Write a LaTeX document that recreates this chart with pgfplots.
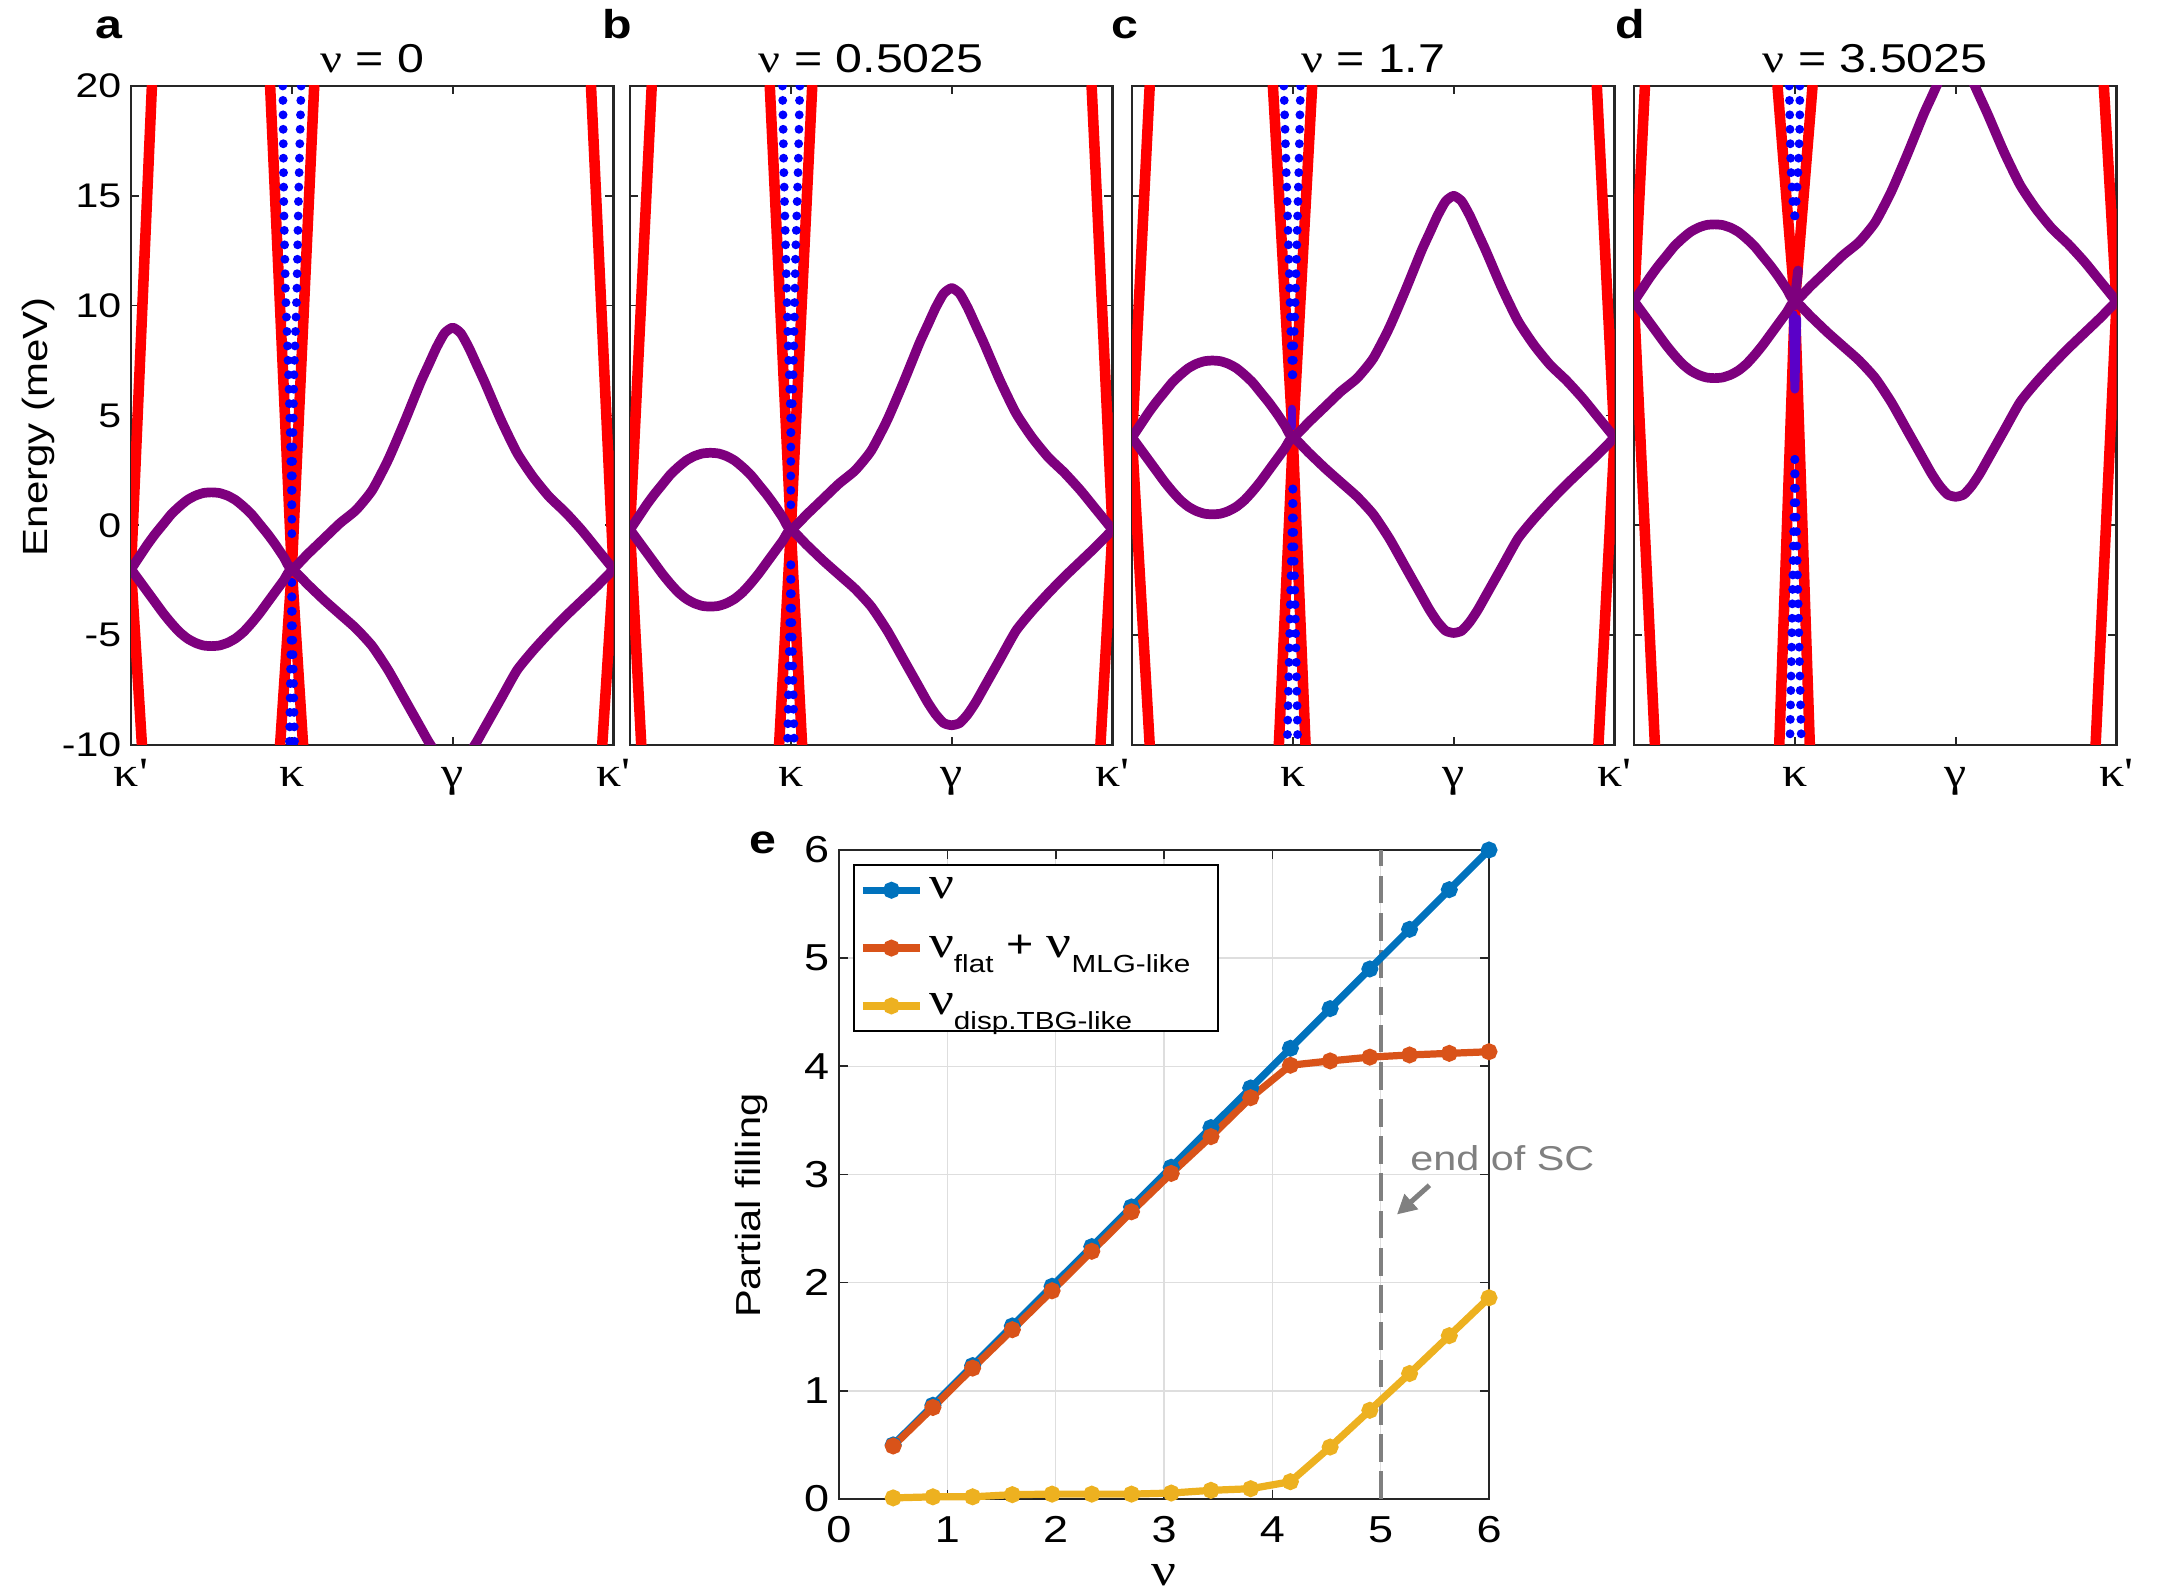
\documentclass[border=0pt]{standalone}
\usepackage{pgfplots}
\pgfplotsset{compat=1.18}
\usepackage{pgfplotstable}
\usepackage{fontspec}
\setmainfont{Liberation Sans}[FakeStretch=1.2]
\newfontfamily\grk{Liberation Serif}[FakeStretch=1.2,Ligatures=TeXOff]
\usetikzlibrary{arrows.meta}

\definecolor{axgray}{RGB}{38,38,38}
\definecolor{bandpurple}{RGB}{126,0,126}
\definecolor{bluepurple}{RGB}{90,0,200}
\definecolor{mblue}{RGB}{0,114,189}
\definecolor{morange}{RGB}{217,83,25}
\definecolor{myellow}{RGB}{237,177,32}
\definecolor{gridgray}{RGB}{222,222,222}
\definecolor{dashgray}{RGB}{128,128,128}

\pgfplotstableread{
x    aU    aL     bU    bL    cU    cL    dU    dL
0    -2    -2     -0.2  -0.2  4     4     10.2  10.2
0.05 -1.45 -2.5   0.35  -0.7  4.55  3.5   10.75 9.7
0.1  -0.9  -3     0.9   -1.2  5.1   3     11.3  9.2
0.15 -0.4  -3.5   1.4   -1.7  5.6   2.5   11.8  8.7
0.2  0.05  -4     1.85  -2.2  6.05  2     12.25 8.2
0.25 0.5   -4.45  2.3   -2.65 6.5   1.55  12.7  7.75
0.3  0.85  -4.85  2.65  -3.05 6.85  1.15  13.05 7.35
0.35 1.15  -5.15  2.95  -3.35 7.15  0.85  13.35 7.05
0.4  1.35  -5.35  3.15  -3.55 7.35  0.65  13.55 6.85
0.45 1.47  -5.47  3.27  -3.67 7.47  0.53  13.67 6.73
0.5  1.5   -5.5   3.3   -3.7  7.5   0.5   13.7  6.7
0.55 1.47  -5.47  3.27  -3.67 7.47  0.53  13.67 6.73
0.6  1.35  -5.35  3.15  -3.55 7.35  0.65  13.55 6.85
0.65 1.15  -5.15  2.95  -3.35 7.15  0.85  13.35 7.05
0.7  0.85  -4.85  2.65  -3.05 6.85  1.15  13.05 7.35
0.75 0.5   -4.45  2.3   -2.65 6.5   1.55  12.7  7.75
0.8  0.05  -4     1.85  -2.2  6.05  2     12.25 8.2
0.85 -0.4  -3.5   1.4   -1.7  5.6   2.5   11.8  8.7
0.9  -0.9  -3     0.9   -1.2  5.1   3     11.3  9.2
0.95 -1.45 -2.5   0.35  -0.7  4.55  3.5   10.75 9.7
1.0  -2    -2     -0.2  -0.2  4     4     10.2  10.2
1.1  -1.3  -2.7   0.5   -0.9  4.7   3.3   10.9  9.5
1.2  -0.6  -3.4   1.2   -1.6  5.4   2.6   11.6  8.8
1.3  0.1   -4.05  1.9   -2.25 6.1   1.95  12.3  8.15
1.4  0.7   -4.7   2.5   -2.9  6.7   1.3   12.9  7.5
1.5  1.6   -5.5   3.4   -3.7  7.6   0.5   13.8  6.7
1.6  3.0   -6.6   4.8   -4.8  9.0   -0.6  15.2  5.6
1.7  4.7   -7.9   6.5   -6.1  10.7  -1.9  16.9  4.3
1.8  6.5   -9.2   8.3   -7.4  12.5  -3.2  18.7  3.0
1.85 7.3   -9.85  9.1   -8.05 13.3  -3.85 19.5  2.35
1.9  8.1   -10.4  9.9   -8.6  14.1  -4.4  20.3  1.8
1.95 8.75  -10.8  10.55 -9.0  14.75 -4.8  20.95 1.4
2.0  9.0   -10.9  10.8  -9.1  15.0  -4.9  21.2  1.3
2.05 8.75  -10.8  10.55 -9.0  14.75 -4.8  20.95 1.4
2.1  8.1   -10.4  9.9   -8.6  14.1  -4.4  20.3  1.8
2.15 7.3   -9.85  9.1   -8.05 13.3  -3.85 19.5  2.35
2.2  6.5   -9.2   8.3   -7.4  12.5  -3.2  18.7  3.0
2.3  4.8   -7.9   6.6   -6.1  10.8  -1.9  17.0  4.3
2.4  3.3   -6.6   5.1   -4.8  9.3   -0.6  15.5  5.6
2.5  2.2   -5.7   4.0   -3.9  8.2   0.3   14.4  6.5
2.6  1.3   -4.9   3.1   -3.1  7.3   1.1   13.5  7.3
2.7  0.6   -4.15  2.4   -2.35 6.6   1.85  12.8  8.05
2.8  -0.2  -3.45  1.6   -1.65 5.8   2.55  12.0  8.75
2.9  -1.1  -2.75  0.7   -0.95 4.9   3.25  11.1  9.45
3.0  -2    -2     -0.2  -0.2  4     4     10.2  10.2
}\bands

\pgfplotstableread{
x      nu     flat   disp
0.5    0.5    0.49   0.01
0.8667 0.8667 0.846  0.02
1.2333 1.2333 1.21   0.02
1.6    1.6    1.565  0.04
1.9667 1.9667 1.925  0.045
2.3333 2.3333 2.29   0.045
2.7    2.7    2.655  0.045
3.0667 3.0667 3.01   0.055
3.4333 3.4333 3.35   0.08
3.8    3.8    3.71   0.095
4.1667 4.1667 4.01   0.16
4.5333 4.5333 4.05   0.48
4.9    4.9    4.085  0.82
5.2667 5.2667 4.105  1.16
5.6333 5.6333 4.12   1.51
6.0    6.0    4.135  1.86
}\fillingdata

\newcommand{\lnu}{{\grk\fontsize{16.5}{16.5}\selectfont ν}}
\newcommand{\sub}[1]{\raisebox{-5.5pt}{\fontsize{8.9}{9}\selectfont #1}}

\pgfplotsset{
  bandax/.style={
    scale only axis, width=173.7pt, height=237.24pt, anchor=south west,
    xmin=0, xmax=3, ymin=-10, ymax=20,
    xtick={0,1,2,3},
    xticklabels={{\grk κ'},{\grk κ},{\grk γ},{\grk κ'}},
    ytick={-10,-5,0,5,10,15,20},
    tick align=inside,
    major tick length=2.9pt,
    every tick/.style={draw=axgray, line width=0.6pt},
    axis line style={draw=axgray, line width=1pt},
    tick label style={font=\fontsize{12.3}{13}\selectfont},
    /pgf/number format/assume math mode=true,
    xticklabel style={font=\grk\fontsize{15}{15}\selectfont, anchor=base, yshift=-15.1pt},
    title style={at={(0.5,1)}, anchor=base, yshift=-1pt, font=\fontsize{14.5}{15}\selectfont},
    clip=true,
  },
  redline/.style={draw=red, line width=3.8pt, line cap=round, line join=round, no marks},
  bluedots/.style={draw=blue, line width=3.2pt, line cap=round, dash pattern=on 0pt off 5.2pt, no marks},
  bandline/.style={draw=bandpurple, line width=3.5pt, line join=round, line cap=round, no marks, smooth, tension=0.35},
}

\begin{document}
\begin{tikzpicture}[x=1pt,y=1pt]
\path[use as bounding box] (0,0) rectangle (778.32,574.2);

% ---------- panel a ----------
\begin{axis}[bandax, at={(47.16pt,306pt)}, title={{\grk ν} = 0},
  ylabel={Energy (meV)},
  ylabel style={at={(axis description cs:-0.191,0.483)}, anchor=center, font=\fontsize{12.6}{13}\selectfont}]
\addplot[redline] coordinates {(-0.13,20) (0,-2) (0.13,20)};
\addplot[redline] coordinates {(-0.068,-10) (0,-2) (0.068,-10)};
\addplot[redline] coordinates {(0.865,20) (1,-2) (1.139,20)};
\addplot[redline] coordinates {(0.927,-10) (1,-2) (1.07,-10)};
\addplot[redline] coordinates {(2.86,20) (3,-2) (3.14,20)};
\addplot[redline] coordinates {(2.93,-10) (3,-2) (3.07,-10)};
\addplot[bluedots] coordinates {(0.944,20) (0.95,14.65) (0.961,10.6) (0.981,6.55) (0.992,3.5) (1.0,0.47) (1.0,-1.0)};
\addplot[bluedots] coordinates {(1.058,20) (1.041,14.65) (1.031,10.6) (1.012,6.55) (1.006,3.5) (1.0,0.47)};
\addplot[bluedots] coordinates {(1.0,-2.6) (0.985,-10)};
\addplot[bluedots] coordinates {(1.0,-2.6) (1.017,-10)};
\addplot[bandline] table[x=x,y=aU] {\bands};
\addplot[bandline] table[x=x,y=aL] {\bands};
\end{axis}

% ---------- panel b ----------
\begin{axis}[bandax, at={(226.8pt,306pt)}, title={{\grk ν} = 0.5025}, yticklabels={},
  xticklabels={{},{\grk κ},{\grk γ},{\grk κ'}}]
\addplot[redline] coordinates {(-0.135,20) (0,-0.2) (0.135,20)};
\addplot[redline] coordinates {(-0.07,-10) (0,-0.2) (0.07,-10)};
\addplot[redline] coordinates {(0.869,20) (1,-0.2) (1.133,20)};
\addplot[redline] coordinates {(0.927,-10) (1,-0.2) (1.07,-10)};
\addplot[redline] coordinates {(2.87,20) (3,-0.2) (3.13,20)};
\addplot[redline] coordinates {(2.925,-10) (3,-0.2) (3.075,-10)};
\addplot[bluedots] coordinates {(0.948,20) (0.956,16.25) (0.969,12.23) (0.983,8.21) (0.998,5.2) (1.0,4.2) (1.0,0.8)};
\addplot[bluedots] coordinates {(1.056,20) (1.0456,16.25) (1.029,12.23) (1.0187,8.21) (1.008,5.2) (1.0,4.2)};
\addplot[bluedots] coordinates {(1.0,-1.8) (0.979,-10)};
\addplot[bluedots] coordinates {(1.0,-1.8) (1.021,-10)};
\addplot[bandline] table[x=x,y=bU] {\bands};
\addplot[bandline] table[x=x,y=bL] {\bands};
\end{axis}

% ---------- panel c ----------
\begin{axis}[bandax, at={(407.52pt,306pt)}, title={{\grk ν} = 1.7}, yticklabels={},
  xticklabels={{},{\grk κ},{\grk γ},{\grk κ'}}]
\addplot[redline] coordinates {(-0.11,20) (0,3.9) (0.11,20)};
\addplot[redline] coordinates {(-0.11,-10) (0,3.9) (0.11,-10)};
\addplot[redline] coordinates {(0.876,20) (1,3.9) (1.12,20)};
\addplot[redline] coordinates {(0.913,-10) (1,3.9) (1.079,-10)};
\addplot[redline] coordinates {(2.89,20) (3,3.9) (3.11,20)};
\addplot[redline] coordinates {(2.90,-10) (3,3.9) (3.10,-10)};
\addplot[bluedots] coordinates {(0.944,20) (0.9585,16.25) (0.975,12.23) (0.9855,9.22) (0.996,6.8)};
\addplot[bluedots] coordinates {(1.0477,20) (1.0373,16.25) (1.0228,12.23) (1.0104,9.22) (1.0,6.8)};
\addplot[draw=bluepurple, line width=3pt, line cap=round, no marks] coordinates {(0.995,5.3) (0.995,4.5)};
\addplot[bluedots] coordinates {(1.0,1.65) (0.965,-10)};
\addplot[bluedots] coordinates {(1.0,1.65) (1.031,-10)};
\addplot[bandline] table[x=x,y=cU] {\bands};
\addplot[bandline] table[x=x,y=cL] {\bands};
\end{axis}

% ---------- panel d ----------
\begin{axis}[bandax, at={(588.24pt,306pt)}, title={{\grk ν} = 3.5025}, yticklabels={},
  xticklabels={{},{\grk κ},{\grk γ},{\grk κ'}}]
\addplot[redline] coordinates {(-0.068,20) (0,10.1) (0.068,20)};
\addplot[redline] coordinates {(-0.13,-10) (0,10.1) (0.13,-10)};
\addplot[redline] coordinates {(0.892,20) (1,10.1) (1.11,20)};
\addplot[redline] coordinates {(0.903,-10) (1,10.1) (1.093,-10)};
\addplot[redline] coordinates {(2.921,20) (3,10.1) (3.079,20)};
\addplot[redline] coordinates {(2.87,-10) (3,10.1) (3.13,-10)};
\addplot[bluedots] coordinates {(0.965,20) (0.969,18.26) (0.975,16.25) (0.99,14.45) (1.0,14.0)};
\addplot[bluedots] coordinates {(1.031,20) (1.031,18.26) (1.021,16.25) (1.006,14.45) (1.0,14.0)};
\addplot[draw=bluepurple, line width=3.2pt, line cap=round, line join=round, no marks] coordinates {(0.99,9.6) (1.0,6.2) (1.012,9.4)};
\addplot[bluedots] coordinates {(1.0,3.0) (0.969,-10)};
\addplot[bluedots] coordinates {(1.0,3.0) (1.041,-10)};
\addplot[bandline] table[x=x,y=dU] {\bands};
\addplot[bandline] table[x=x,y=dL] {\bands};
\addplot[draw=bandpurple, line width=3.5pt, line cap=round, no marks] coordinates {(0.995,10.0) (1.02,11.6)};
\end{axis}

% ---------- panel e ----------
\begin{axis}[scale only axis, width=234pt, height=233.64pt, anchor=south west, at={(302.04pt,34.56pt)},
  xmin=0, xmax=6, ymin=0, ymax=6, xtick={0,1,2,3,4,5,6}, ytick={0,1,2,3,4,5,6},
  grid=major, grid style={draw=gridgray, line width=0.5pt},
  tick align=inside, major tick length=3.2pt,
  every tick/.style={draw=axgray, line width=0.6pt},
  axis line style={draw=axgray, line width=1pt},
  tick label style={font=\fontsize{13.5}{14}\selectfont},
  /pgf/number format/assume math mode=true,
  xticklabel style={anchor=base, yshift=-15.8pt},
  xlabel={\grk ν},
  xlabel style={at={(axis description cs:0.5,0)}, anchor=base, inner sep=0pt, yshift=-31.3pt, font=\fontsize{16.5}{16.5}\selectfont},
  ylabel={Partial filling},
  ylabel style={at={(axis description cs:-0.134,0.452)}, anchor=center, font=\fontsize{12.5}{13}\selectfont},
  clip=false,
  legend style={at={(0.0215,0.978)}, anchor=north west, draw=black, line width=0.6pt,
    font=\fontsize{14}{16}\selectfont, cells={anchor=west}, row sep=7.5pt,
    inner xsep=2pt, inner ysep=2.5pt},
  legend image code/.code={\draw[#1, mark repeat=2, mark phase=2] plot coordinates {(0pt,0pt) (10.25pt,0pt) (20.5pt,0pt)};},
]
\addplot[draw=dashgray, line width=1.5pt, dash pattern=on 10pt off 3.4pt, forget plot] coordinates {(5,0) (5,6)};
\addplot[color=mblue, line width=2.6pt, mark=*, mark size=1.7pt, mark options={solid}] table[x=x,y=nu] {\fillingdata};
\addlegendentry{\lnu}
\addplot[color=morange, line width=2.6pt, mark=*, mark size=1.7pt, mark options={solid}] table[x=x,y=flat] {\fillingdata};
\addlegendentry{\lnu\sub{flat} + \lnu\sub{MLG-like}\rule{6pt}{0pt}}
\addplot[color=myellow, line width=2.6pt, mark=*, mark size=1.7pt, mark options={solid}] table[x=x,y=disp] {\fillingdata};
\addlegendentry{\lnu\sub{disp.TBG-like}}
\node[anchor=base west, inner sep=0pt, text=dashgray, font=\fontsize{12.4}{13}\selectfont] at (axis cs:5.27,3.04) {end of SC};
\draw[dashgray, line width=1.8pt, -{Triangle[length=7pt,width=7pt]}] (axis cs:5.45,2.90) -- (axis cs:5.15,2.63);
\end{axis}

% panel letters
\node[anchor=base, font=\bfseries\fontsize{14.5}{15}\selectfont] at (39.24,560.5) {a};
\node[anchor=base, font=\bfseries\fontsize{14.5}{15}\selectfont] at (222.1,560.5) {b};
\node[anchor=base, font=\bfseries\fontsize{14.5}{15}\selectfont] at (405.0,560.5) {c};
\node[anchor=base, font=\bfseries\fontsize{14.5}{15}\selectfont] at (586.8,560.5) {d};
\node[anchor=base, font=\bfseries\fontsize{14.5}{15}\selectfont] at (274.7,267.1) {e};
\end{tikzpicture}
\end{document}
